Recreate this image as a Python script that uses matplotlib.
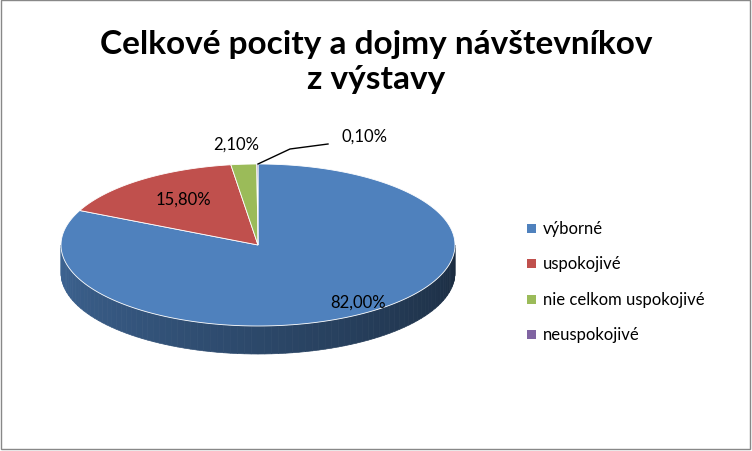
import numpy as np
import matplotlib.pyplot as plt
from matplotlib.patches import Polygon, Rectangle
from matplotlib.colors import to_rgb

plt.rcParams['font.family'] = ['Lato', 'DejaVu Sans']

categories = ['výborné', 'uspokojivé', 'nie celkom uspokojivé', 'neuspokojivé']
values = [82.0, 15.8, 2.1, 0.1]
labels = ['82,00%', '15,80%', '2,10%', '0,10%']
colors = ['#4f81bd', '#c0504d', '#9bbb59', '#8064a2']

fig = plt.figure(figsize=(7.52, 4.52), dpi=100)
ax = fig.add_axes([0, 0, 1, 1])
ax.set_xlim(0, 752)
ax.set_ylim(452, 0)
ax.axis('off')
ax.add_patch(Rectangle((1, 1), 749, 449, fill=False, ec='#888888', lw=1))

cx, cy, rx, ry, depth = 258, 246, 197, 81, 28


def pt(th, dy=0):
    t = np.radians(th)
    return cx + rx * np.cos(t), cy - ry * np.sin(t) + dy


# side band (front half only, belongs to first wedge)
base = np.array(to_rgb(colors[0]))
steps = np.linspace(180, 360, 91)
for a, b in zip(steps[:-1], steps[1:]):
    f = 0.78 - 0.45 * (a - 180) / 180
    poly = [pt(a), pt(b), pt(b, depth), pt(a, depth)]
    ax.add_patch(Polygon(poly, closed=True, fc=base * f, ec=base * f, lw=0.5))

# top face
total = sum(values)
start = 90.0
for v, c in zip(values, colors):
    end = start - 360 * v / total
    ths = np.linspace(start, end, max(int(abs(end - start)) + 2, 3))
    poly = [(cx, cy)] + [pt(t) for t in ths]
    ax.add_patch(Polygon(poly, closed=True, fc=c, ec='white', lw=0.6))
    start = end

ax.text(358, 303, labels[0], fontsize=12, ha='center', va='center')
ax.text(183, 200, labels[1], fontsize=12, ha='center', va='center')
ax.text(236, 145, labels[2], fontsize=12, ha='center', va='center')
ax.text(365, 137, labels[3], fontsize=12, ha='center', va='center')
ax.plot([258, 290, 328], [165, 150, 145], color='black', lw=1)

ax.text(376, 62, 'Celkové pocity a dojmy návštevníkov\nz výstavy', fontsize=24,
        fontweight='bold', ha='center', va='center', linespacing=1.25)

for i, (cat, c) in enumerate(zip(categories, colors)):
    y = 229 + i * 35.5
    ax.add_patch(Rectangle((527, y - 4.5), 9, 9, fc=c, ec='none'))
    ax.text(543, y, cat, fontsize=12, va='center')

fig.savefig('out.png', dpi=100)
